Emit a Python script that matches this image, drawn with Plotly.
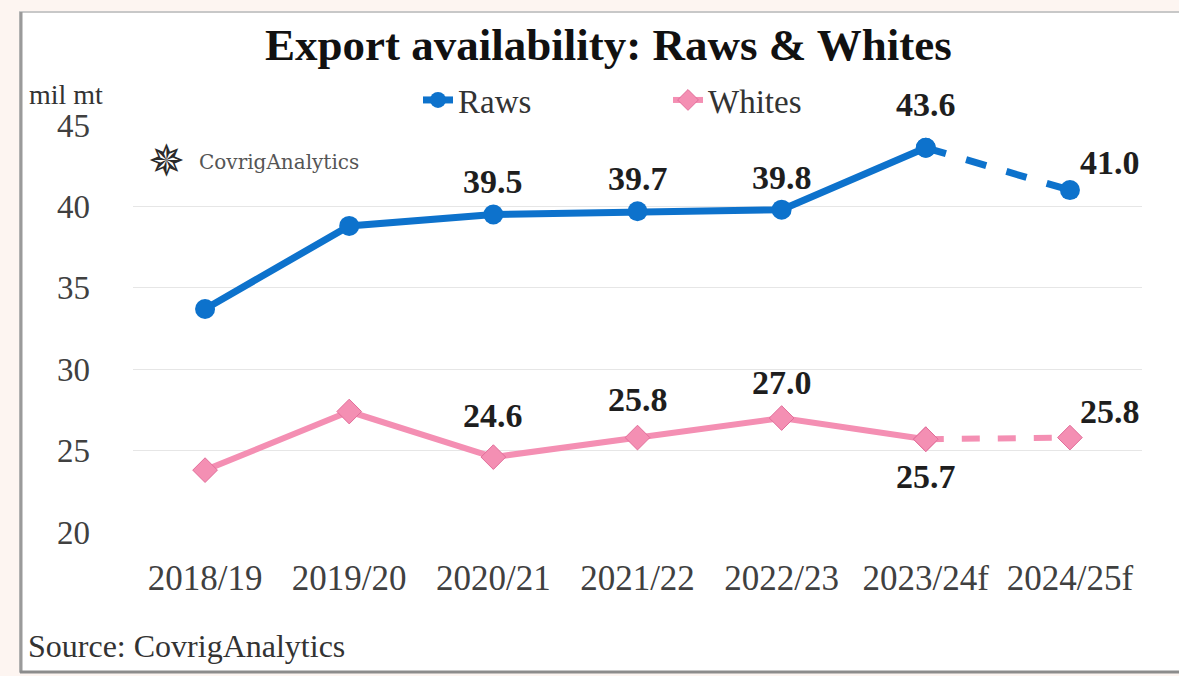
import plotly.graph_objects as go

# Marketing years and export availability (mil mt)
seasons = ["2018/19", "2019/20", "2020/21", "2021/22", "2022/23", "2023/24f", "2024/25f"]
raws = [33.7, 38.8, 39.5, 39.7, 39.8, 43.6, 41.0]
whites = [23.8, 27.4, 24.6, 25.8, 27.0, 25.7, 25.8]
y_ticks = [20, 25, 30, 35, 40, 45]

# Labelled points: index -> (x offset, y offset) of the value label in px
raws_labels = {2: (0, 33), 3: (0, 33), 4: (0, 32), 5: (0, 43), 6: (40, 28)}
whites_labels = {2: (0, 42), 3: (0, 38), 4: (0, 36), 5: (0, -37), 6: (40, 26)}

BLUE = "#0D72CC"
PINK = "#F48FB3"
PINK_EDGE = "#E26E9A"
SERIF = "Liberation Serif, Times New Roman, serif"

W, H = 1179, 676
ML, MR, MT, MB = 133, 37, 125, 144
PW, PH = W - ML - MR, H - MT - MB


def px(x):
    return (x - ML) / PW


def py(y):
    return (H - MB - y) / PH


fig = go.Figure()

# Solid history + dashed forecast segment for each series
fig.add_trace(go.Scatter(
    x=seasons[:6], y=raws[:6], name="Raws", mode="lines+markers",
    line=dict(color=BLUE, width=7),
    marker=dict(symbol="circle", size=20, color=BLUE),
))
fig.add_trace(go.Scatter(
    x=seasons[5:], y=raws[5:], showlegend=False, mode="lines+markers",
    line=dict(color=BLUE, width=7, dash="dash"),
    marker=dict(symbol="circle", size=20, color=BLUE),
))
fig.add_trace(go.Scatter(
    x=seasons[:6], y=whites[:6], name="Whites", mode="lines+markers",
    line=dict(color=PINK, width=6),
    marker=dict(symbol="diamond", size=19, color=PINK, line=dict(color=PINK_EDGE, width=1)),
))
fig.add_trace(go.Scatter(
    x=seasons[5:], y=whites[5:], showlegend=False, mode="lines+markers",
    line=dict(color=PINK, width=6, dash="dash"),
    marker=dict(symbol="diamond", size=19, color=PINK, line=dict(color=PINK_EDGE, width=1)),
))

annotations = []
label_font = dict(family=SERIF, size=34, color="#1e1e1e")
for series, labels in ((raws, raws_labels), (whites, whites_labels)):
    for i, (dx, dy) in labels.items():
        annotations.append(dict(
            x=seasons[i], y=series[i], xref="x", yref="y",
            text=f"<b>{series[i]:.1f}</b>", showarrow=False,
            xshift=dx, yshift=dy, font=label_font,
            xanchor="center", yanchor="middle",
        ))

# Title, unit, source and watermark
annotations += [
    dict(x=px(608), y=py(45), xref="paper", yref="paper", showarrow=False,
         xanchor="center", yanchor="middle",
         text="<b>Export availability: Raws &amp; Whites</b>",
         font=dict(family=SERIF, size=45, color="#111111")),
    dict(x=px(27), y=py(95), xref="paper", yref="paper", showarrow=False,
         xanchor="left", yanchor="middle", text="mil mt",
         font=dict(family=SERIF, size=28, color="#333333")),
    dict(x=px(26), y=py(646), xref="paper", yref="paper", showarrow=False,
         xanchor="left", yanchor="middle", text="Source: CovrigAnalytics",
         font=dict(family=SERIF, size=32, color="#333333")),
    dict(x=px(166), y=py(161), xref="paper", yref="paper", showarrow=False,
         xanchor="center", yanchor="middle",
         text="✵", font=dict(family="DejaVu Sans", size=44, color="#2a2a2a")),
    dict(x=px(197), y=py(162), xref="paper", yref="paper", showarrow=False,
         xanchor="left", yanchor="middle", text="CovrigAnalytics",
         font=dict(family="DejaVu Serif", size=20, color="#555555")),
]

shapes = [
    # white card with a soft grey edge
    dict(type="rect", xref="paper", yref="paper", layer="below",
         x0=px(20), x1=px(1220), y0=py(672), y1=py(12),
         fillcolor="white", line=dict(color="#c8c8c8", width=2)),
    dict(type="line", xref="paper", yref="paper", layer="below",
         x0=px(21), x1=px(21), y0=py(672), y1=py(12),
         line=dict(color="#9a9a9a", width=3)),
    dict(type="line", xref="paper", yref="paper", layer="below",
         x0=px(20), x1=px(1220), y0=py(672), y1=py(672),
         line=dict(color="#8c8c8c", width=3)),
]

fig.update_layout(
    width=W, height=H,
    margin=dict(l=ML, r=MR, t=MT, b=MB),
    paper_bgcolor="#FDF5F1",
    plot_bgcolor="rgba(0,0,0,0)",
    font=dict(family=SERIF, color="#404040"),
    showlegend=True,
    legend=dict(
        orientation="h", x=px(418), y=py(100), xanchor="left", yanchor="middle",
        bgcolor="rgba(0,0,0,0)", font=dict(family=SERIF, size=33, color="#333333"),
        entrywidth=205, entrywidthmode="pixels", itemsizing="trace",
    ),
    annotations=annotations,
    shapes=shapes,
)
fig.update_xaxes(
    type="category", categoryorder="array", categoryarray=seasons,
    range=[-0.5, len(seasons) - 0.5],
    showgrid=False, showline=False, zeroline=False, ticks="",
    tickfont=dict(family=SERIF, size=35, color="#404040"),
    ticklabelstandoff=22,
)
fig.update_yaxes(
    range=[20, 45], tickvals=y_ticks, ticktext=[str(v) for v in y_ticks],
    showgrid=True, gridcolor="#e6e6e6", gridwidth=1,
    showline=False, zeroline=False, ticks="",
    tickfont=dict(family=SERIF, size=33, color="#404040"),
    ticklabelstandoff=42,
)

fig.write_html("out.html")
